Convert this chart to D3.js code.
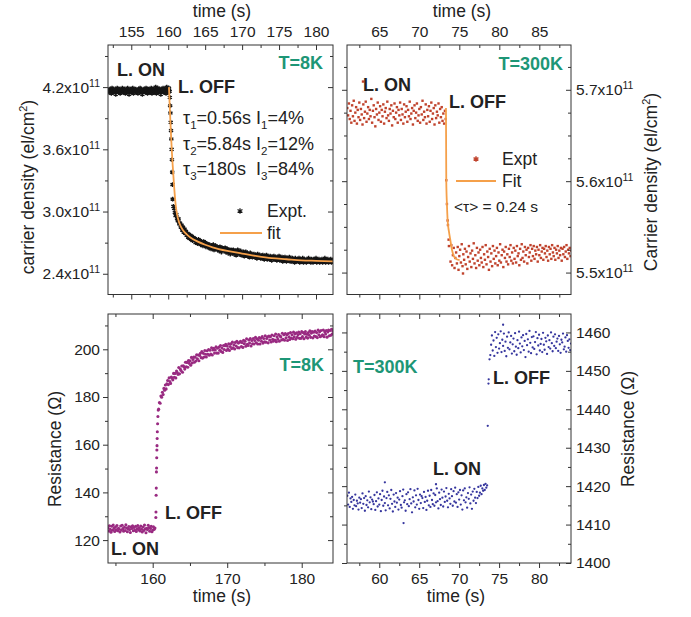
<!DOCTYPE html>
<html>
<head>
<meta charset="utf-8">
<script src="https://cdn.jsdelivr.net/npm/d3@7"></script>
<style>
body { margin: 0; background: #fff; }
svg { font-family: "Liberation Sans", Arial, Helvetica, sans-serif; }
</style>
</head>
<body>
<div id="chart"></div>
<script>
// ---- tick values ----
var tlXMajor = [155, 160, 165, 170, 175, 180];
var tlXMinor = [152.5, 157.5, 162.5, 167.5, 172.5, 177.5];
var tlYMajor = [2.4, 3.0, 3.6, 4.2];
var tlYMinor = [2.7, 3.3, 3.9, 4.5];
var trXMajor = [65, 70, 75, 80, 85];
var trXMinor = [62.5, 67.5, 72.5, 77.5, 82.5, 87.5];
var trYMajor = [5.5, 5.6, 5.7];
var trYMinor = [5.525, 5.55, 5.575, 5.625, 5.65, 5.675, 5.725];
var blXMajor = [160, 170, 180];
var blXMinor = [155, 165, 175];
var blYMajor = [120, 140, 160, 180, 200];
var blYMinor = [130, 150, 170, 190, 210];
var brXMajor = [60, 65, 70, 75, 80];
var brXMinor = [57.5, 62.5, 67.5, 72.5, 77.5, 82.5];
var brYMajor = [1400, 1410, 1420, 1430, 1440, 1450, 1460];
var brYMinor = [1405, 1415, 1425, 1435, 1445, 1455];

// ---- T=8K carrier density (x1e11 el/cm2), sampled every 0.1 s ----
var tlOnT0 = 151.9;
var tlOn = [4.17,4.15,4.18,4.16,4.14,4.19,4.17,4.15,4.16,4.18,4.13,4.17,4.19,4.16,4.15,4.18,4.14,4.16,4.17,4.19,
4.15,4.16,4.18,4.14,4.17,4.15,4.19,4.16,4.13,4.17,4.18,4.15,4.16,4.19,4.14,4.17,4.16,4.18,4.15,4.17,
4.14,4.18,4.16,4.19,4.15,4.17,4.13,4.16,4.18,4.17,4.15,4.19,4.16,4.14,4.18,4.17,4.15,4.16,4.19,4.14,
4.17,4.18,4.15,4.16,4.20,4.14,4.17,4.19,4.15,4.16,4.18,4.13,4.17,4.16,4.19,4.15,4.18,4.16,4.14,4.20,
4.17,4.15,4.19,4.16];
var tlDrop = [[160.22,4.10],[160.26,4.02],[160.3,3.95],[160.34,3.86],[160.38,3.78],[160.42,3.70],[160.46,3.60],[160.5,3.50],[160.54,3.38],[160.58,3.26]];
var tlDecayT0 = 160.6;
var tlDecay = [3.12,3.05,3.03,2.99,2.96,2.97,2.93,2.91,2.93,2.88,
2.89,2.85,2.87,2.82,2.85,2.80,2.83,2.79,2.81,2.77,
2.79,2.75,2.78,2.74,2.77,2.73,2.76,2.72,2.75,2.74,
2.74,2.70,2.73,2.72,2.69,2.73,2.70,2.72,2.68,2.71,
2.70,2.67,2.71,2.68,2.70,2.66,2.69,2.67,2.68,2.65,
2.68,2.66,2.64,2.67,2.65,2.68,2.63,2.66,2.67,2.64,
2.66,2.63,2.65,2.62,2.66,2.64,2.61,2.65,2.63,2.64,
2.62,2.65,2.61,2.63,2.64,2.60,2.63,2.62,2.59,2.63,
2.62,2.60,2.63,2.59,2.61,2.62,2.58,2.61,2.63,2.60,
2.59,2.61,2.62,2.58,2.60,2.59,2.61,2.57,2.60,2.61,
2.58,2.60,2.57,2.59,2.56,2.60,2.58,2.59,2.56,2.58,
2.59,2.56,2.58,2.57,2.55,2.59,2.57,2.56,2.58,2.55,
2.57,2.55,2.58,2.56,2.54,2.57,2.56,2.58,2.54,2.56,
2.56,2.54,2.57,2.55,2.53,2.56,2.55,2.57,2.54,2.55,
2.56,2.53,2.55,2.54,2.57,2.53,2.55,2.54,2.56,2.52,
2.55,2.53,2.56,2.54,2.52,2.55,2.54,2.53,2.56,2.52,
2.54,2.52,2.55,2.53,2.54,2.51,2.55,2.53,2.52,2.54,
2.53,2.55,2.51,2.54,2.52,2.53,2.55,2.51,2.54,2.52,
2.53,2.51,2.54,2.52,2.55,2.52,2.53,2.51,2.54,2.53,
2.51,2.54,2.52,2.53,2.55,2.51,2.53,2.52,2.54,2.51,
2.53,2.52,2.54,2.51,2.53,2.52,2.55,2.51,2.53,2.52,
2.54,2.51,2.53,2.52,2.54,2.51,2.53,2.52];
var tlFitT = [160.1,160.2,160.3,160.4,160.5,160.6,160.8,161.0,161.2,161.5,162.0,162.5,163.0,164,165,166,168,170,172,174,176,178,180,182.3];
var tlFitV = [4.20,4.02,3.86,3.71,3.57,3.45,3.24,3.07,2.97,2.89,2.82,2.78,2.75,2.71,2.68,2.655,2.62,2.595,2.57,2.55,2.54,2.53,2.525,2.52];

// ---- T=300K carrier density (x1e11 el/cm2) ----
var trOnT0 = 61.0;
var trOn = [5.680,5.672,5.685,5.668,5.677,5.664,5.683,5.671,5.688,5.666,
5.675,5.681,5.663,5.678,5.670,5.686,5.667,5.679,5.673,5.662,
5.684,5.669,5.676,5.687,5.665,5.674,5.681,5.668,5.678,5.671,
5.690,5.664,5.677,5.683,5.670,5.660,5.679,5.673,5.686,5.667,
5.675,5.682,5.665,5.678,5.671,5.684,5.663,5.676,5.680,5.669,
5.687,5.672,5.666,5.679,5.674,5.683,5.661,5.677,5.670,5.685,
5.668,5.675,5.681,5.664,5.678,5.672,5.686,5.667,5.679,5.673,
5.663,5.684,5.670,5.676,5.682,5.665,5.678,5.671,5.687,5.668,
5.674,5.680,5.662,5.677,5.683,5.669,5.675,5.685,5.666,5.672,
5.679,5.664,5.681,5.673,5.688,5.667,5.676,5.670,5.684,5.663,
5.678,5.671,5.682,5.665,5.677,5.686,5.668,5.674,5.680,5.662,
5.683,5.669,5.676,5.672,5.685,5.664,5.679,5.670,5.681,5.666,
5.674,5.663,5.677,5.668];
var trDrop = [[73.37,5.601],[73.45,5.575],[73.54,5.557],[73.58,5.552],[73.66,5.536],[73.7,5.529]];
var trOutliers = [[62.96,5.709],[75.46,5.499]];
var trOffT0 = 73.9;
var trOff = [5.512,5.530,5.508,5.519,5.527,5.505,5.516,5.522,5.510,
5.528,5.503,5.518,5.525,5.511,5.531,5.507,5.520,5.514,5.526,
5.509,5.523,5.504,5.517,5.529,5.512,5.521,5.506,5.524,5.515,
5.532,5.510,5.519,5.505,5.527,5.513,5.522,5.508,5.525,5.516,
5.511,5.528,5.506,5.520,5.514,5.530,5.509,5.523,5.517,5.503,
5.526,5.512,5.521,5.507,5.529,5.515,5.524,5.510,5.518,5.527,
5.508,5.522,5.513,5.531,5.511,5.519,5.525,5.506,5.523,5.516,
5.528,5.512,5.520,5.509,5.526,5.517,5.530,5.513,5.522,5.510,
5.527,5.515,5.524,5.511,5.529,5.518,5.521,5.508,5.526,5.514,
5.531,5.516,5.523,5.512,5.528,5.519,5.525,5.510,5.527,5.517,
5.522,5.530,5.513,5.526,5.518,5.529,5.515,5.524,5.520,5.528,
5.512,5.525,5.519,5.530,5.516,5.523,5.527,5.514,5.526,5.521,
5.529,5.517,5.524,5.513,5.528,5.520,5.526,5.515,5.530,5.522,
5.518,5.527,5.514,5.525,5.521,5.529,5.516,5.524,5.519,5.527,
5.513,5.526,5.520,5.528,5.517,5.523,5.530,5.515,5.525,5.521,
5.527,5.518,5.524];
var trFitT = [73.33,73.35,73.37,73.45,73.54,73.7,73.87,74.08,74.5,75.04];
var trFitV = [5.68,5.64,5.60,5.575,5.557,5.545,5.536,5.525,5.5155,5.5136];

// ---- T=8K resistance (Ohm) ----
var blOnT0 = 154.0;
var blOn = [125.2,123.8,126.0,124.5,123.3,125.8,124.1,126.3,124.9,123.6,
125.5,124.3,126.1,123.9,125.0,124.6,123.4,125.9,124.2,126.2,
124.8,123.7,125.4,124.0,126.4,125.1,123.5,124.7,125.7,124.4,
123.2,125.6,124.9,126.0,123.9,125.3,124.1,125.8,123.6,124.8,
126.1,124.3,125.2,123.8,125.9,124.6,123.4,125.5,124.0,126.3,
124.7,123.1,125.0,124.4,126.2,125.3,123.7,124.9,125.8,123.5,
124.2,125.6,124.5,125.1];
var blJump = [[160.42,129.5],[160.44,131.8],[160.46,138.8],[160.48,141.8],[160.5,148.6],[160.52,150.2],[160.54,154.5],[160.56,157.8],[160.58,159.6],[160.6,162.6],[160.62,165.4],[160.66,168.8],[160.7,171.8],[160.74,174.5]];
var blRecT0 = 160.8;
var blRec = [174.9,177.7,177.4,180.4,179.9,182.0,181.0,183.6,182.8,185.0,
183.4,185.5,186.9,185.2,188.0,186.5,185.7,188.4,187.9,187.2,
189.9,188.3,189.9,188.0,190.9,190.3,189.5,192.4,189.7,191.7,
191.1,193.0,190.4,193.1,192.7,191.7,194.6,192.7,194.5,192.5,
195.3,194.1,195.2,193.3,196.6,194.3,195.7,196.7,194.6,196.7,
195.1,197.7,196.0,197.6,195.2,197.4,198.3,196.5,199.1,196.3,
198.3,196.8,199.5,197.9,196.8,199.4,197.9,199.9,197.5,199.6,
198.0,200.6,197.6,199.7,200.4,198.4,199.7,201.0,198.4,200.5,
198.4,200.9,199.6,201.6,199.1,200.5,198.7,201.6,199.9,201.5,
202.1,199.5,201.4,200.2,202.3,199.5,201.2,202.3,200.3,203.0,
200.6,201.9,200.1,202.9,201.4,203.4,200.7,202.6,200.6,203.0,
203.4,201.2,202.8,200.8,203.8,202.3,203.4,201.3,204.4,202.1,
201.6,203.9,202.6,204.5,201.4,203.7,202.3,204.5,202.2,203.7,
205.0,202.7,204.4,202.2,203.8,204.9,202.2,204.6,203.4,205.3,
202.6,204.5,203.1,205.7,203.0,204.5,205.2,202.7,205.6,203.9,
205.3,203.1,206.0,204.2,203.4,205.7,203.9,206.4,203.2,205.2,
204.2,206.2,203.4,205.6,205.2,203.9,206.7,204.2,206.1,203.8,
206.6,204.8,206.1,203.7,206.6,205.2,204.1,207.0,204.7,206.1,
204.4,207.2,205.2,206.5,204.2,206.9,205.0,206.1,207.2,204.6,
206.5,204.6,207.4,205.3,207.0,204.4,206.4,207.4,205.1,206.3,
204.7,207.0,205.9,207.8,205.0,206.8,207.4,204.8,207.2,205.6,
207.6,205.3,207.0,204.9,208.1,206.1,207.4,205.3,207.9,205.7,
206.1,208.1,205.3,207.4,206.4,207.9,205.1,207.3,208.1,205.7,
207.9,205.9,208.4,206.4,207.6];

// ---- T=300K resistance (Ohm) ----
var brOnT0 = 56.0;
var brOn = [1417.5,1415.2,1418.3,1414.6,1416.8,1415.9,1417.2,1414.1,1416.4,1415.0,
1417.8,1414.8,1416.2,1415.5,1413.9,1417.0,1415.7,1416.6,1414.3,1418.1,
1415.4,1416.9,1413.6,1417.4,1415.1,1416.3,1414.5,1418.6,1415.8,1417.1,
1414.0,1416.5,1416.0,1415.3,1417.7,1413.8,1416.1,1418.4,1414.7,1416.8,
1415.2,1417.9,1413.5,1416.4,1418.8,1414.9,1417.3,1415.6,1413.7,1416.9,
1418.5,1415.0,1417.6,1414.2,1416.7,1419.0,1415.4,1413.4,1417.8,1416.0,
1414.6,1418.2,1415.7,1417.0,1413.9,1416.5,1418.7,1415.1,1414.4,1417.4,
1419.1,1415.8,1416.3,1413.6,1417.9,1415.3,1418.4,1414.8,1416.6,1419.2,
1415.5,1413.2,1417.1,1416.0,1418.9,1414.5,1417.6,1415.2,1419.3,1416.4,
1414.1,1417.8,1415.6,1417.4,1416.9,1414.3,1418.5,1415.9,1417.2,1413.8,
1416.2,1418.8,1415.0,1417.5,1414.6,1419.0,1416.4,1415.3,1418.1,1414.9,
1417.7,1415.8,1419.4,1416.1,1414.2,1418.3,1416.6,1415.1,1419.1,1417.0,
1414.7,1418.6,1415.9,1417.3,1419.5,1416.2,1414.5,1418.0,1416.8,1415.4,
1419.2,1417.4,1414.9,1418.7,1416.0,1419.6,1415.7,1417.9,1414.6,1418.4,
1416.5,1419.0,1415.2,1417.6,1413.9,1418.9,1416.3,1419.4,1415.8,1417.1,
1414.4,1418.2,1416.7,1419.7,1415.5,1417.8,1414.1,1418.6,1416.2,1419.3,
1417.0,1415.6,1418.5,1416.9,1419.8,1417.5,1418.3,1420.1,1417.9,1419.4,
1418.8,1420.3,1419.0,1420.6,1419.6,1420.2];
var brOutliers = [[60.7,1421.0],[67.1,1420.5],[63.04,1410.4],[75.5,1462.0]];
var brJump = [[73.58,1435.7],[73.67,1446.7],[73.7,1447.8],[73.8,1453.0]];
var brOffT0 = 73.9;
var brOff = [1454.1,1456.8,1459.2,1455.3,1457.9,1453.9,1460.1,1456.2,1458.6,1454.7,
1459.5,1455.8,1457.2,1460.3,1454.9,1458.1,1456.5,1459.7,1455.2,1457.6,
1453.8,1458.9,1456.0,1460.0,1455.6,1457.4,1459.1,1454.5,1456.9,1458.4,
1455.1,1459.8,1456.3,1454.2,1458.0,1455.9,1460.2,1457.1,1454.8,1458.7,
1456.4,1459.3,1455.4,1457.8,1453.6,1459.6,1456.7,1458.2,1455.0,1460.4,
1457.3,1454.6,1458.8,1456.1,1459.0,1455.7,1457.5,1460.1,1454.3,1458.5,
1456.6,1459.4,1455.3,1457.0,1458.3,1454.9,1459.9,1456.8,1455.5,1458.6,
1457.7,1454.4,1459.2,1456.2,1458.0,1455.8,1460.0,1457.2,1455.1,1458.9,
1456.5,1459.5,1455.9,1457.6,1458.4,1455.2,1459.1,1456.9,1454.7,1458.1,
1457.4,1459.7,1455.6,1456.3,1458.7,1455.0,1459.3,1457.8,1456.0,1458.2,
1455.4,1457.1];

// ---- colours ----
var cBlack = "#151515", cRed = "#c0432d", cPurple = "#992a81", cBlue = "#36369e";
var cFit = "#f5a04a", cGreen = "#1d9676", cAxis = "#333", cText = "#222";

function series(t0, vals) {
  return vals.map(function(v, i) { return [t0 + i * 0.1, v]; });
}
function pairs(ts, vs) {
  return ts.map(function(t, i) { return [t, vs[i]]; });
}

var svg = d3.select("#chart").append("svg")
  .attr("width", 691).attr("height", 617);

function panel(id, box, xd, yd) {
  var p = {
    id: id, b: box,
    x: d3.scaleLinear().domain(xd).range([box[0], box[1]]),
    y: d3.scaleLinear().domain(yd).range([box[3], box[2]])
  };
  svg.append("clipPath").attr("id", "clip-" + id).append("rect")
    .attr("x", box[0]).attr("y", box[2])
    .attr("width", box[1] - box[0]).attr("height", box[3] - box[2]);
  p.g = svg.append("g").attr("clip-path", "url(#clip-" + id + ")");
  return p;
}

var TL = panel("tl", [108, 333, 45, 294.5], [151.85, 182.3], [2.2, 4.606]);
var TR = panel("tr", [347, 571, 45, 294.5], [60.96, 88.96], [5.476, 5.749]);
var BL = panel("bl", [108, 333, 314, 563], [154.0, 184.2], [110.4, 214.8]);
var BR = panel("br", [347, 571, 314, 563], [55.96, 84.0], [1400, 1464.8]);

function tickAxis(fn, scale, vals, size, tx, ty, fmt, pad) {
  var a = fn(scale).tickValues(vals).tickSizeInner(size).tickSizeOuter(0)
    .tickPadding(pad == null ? 3 : pad)
    .tickFormat(fmt || function() { return ""; });
  var g = svg.append("g").attr("transform", "translate(" + tx + "," + ty + ")").call(a);
  g.select(".domain").remove();
  g.attr("font-family", null).attr("font-size", 15.5).attr("color", cAxis);
  g.selectAll("text").attr("fill", cText);
  return g;
}

function frame(p) {
  svg.append("rect").attr("x", p.b[0]).attr("y", p.b[2])
    .attr("width", p.b[1] - p.b[0]).attr("height", p.b[3] - p.b[2])
    .attr("fill", "none").attr("stroke", cAxis).attr("stroke-width", 1);
}

var fInt = d3.format("d");
var fExp = d3.format(".1f");
function supLabels(g) {
  g.selectAll("text").each(function(d) {
    var t = d3.select(this);
    t.text(fExp(d) + "x10");
    t.append("tspan").attr("dy", -6).attr("font-size", 10.5).text("11");
  });
}

// top-left axes
tickAxis(d3.axisTop, TL.x, tlXMajor, -5, 0, TL.b[2], fInt, 8);
tickAxis(d3.axisTop, TL.x, tlXMinor, -3, 0, TL.b[2]);
tickAxis(d3.axisBottom, TL.x, tlXMajor, 5, 0, TL.b[3]);
tickAxis(d3.axisBottom, TL.x, tlXMinor, 3, 0, TL.b[3]);
supLabels(tickAxis(d3.axisLeft, TL.y, tlYMajor, 5, TL.b[0], 0, fExp, 3));
tickAxis(d3.axisLeft, TL.y, tlYMinor, 3, TL.b[0], 0);
tickAxis(d3.axisLeft, TL.y, tlYMajor, 5, TL.b[1], 0);
tickAxis(d3.axisLeft, TL.y, tlYMinor, 3, TL.b[1], 0);

// top-right axes
tickAxis(d3.axisTop, TR.x, trXMajor, -5, 0, TR.b[2], fInt, 8);
tickAxis(d3.axisTop, TR.x, trXMinor, -3, 0, TR.b[2]);
tickAxis(d3.axisBottom, TR.x, trXMajor, 5, 0, TR.b[3]);
tickAxis(d3.axisBottom, TR.x, trXMinor, 3, 0, TR.b[3]);
tickAxis(d3.axisLeft, TR.y, trYMajor, 5, TR.b[0], 0);
tickAxis(d3.axisLeft, TR.y, trYMinor, 3, TR.b[0], 0);
supLabels(tickAxis(d3.axisRight, TR.y, trYMajor, -5, TR.b[1], 0, fExp, 5));
tickAxis(d3.axisRight, TR.y, trYMinor, -3, TR.b[1], 0);

// bottom-left axes
tickAxis(d3.axisBottom, BL.x, blXMajor, 5, 0, BL.b[2]);
tickAxis(d3.axisBottom, BL.x, blXMinor, 3, 0, BL.b[2]);
tickAxis(d3.axisBottom, BL.x, blXMajor, 5, 0, BL.b[3], fInt, 5);
tickAxis(d3.axisBottom, BL.x, blXMinor, 3, 0, BL.b[3]);
tickAxis(d3.axisLeft, BL.y, blYMajor, 5, BL.b[0], 0, fInt, 3);
tickAxis(d3.axisLeft, BL.y, blYMinor, 3, BL.b[0], 0);
tickAxis(d3.axisLeft, BL.y, blYMajor, 5, BL.b[1], 0);
tickAxis(d3.axisLeft, BL.y, blYMinor, 3, BL.b[1], 0);

// bottom-right axes
tickAxis(d3.axisBottom, BR.x, brXMajor, 5, 0, BR.b[2]);
tickAxis(d3.axisBottom, BR.x, brXMinor, 3, 0, BR.b[2]);
tickAxis(d3.axisBottom, BR.x, brXMajor, 5, 0, BR.b[3], fInt, 5);
tickAxis(d3.axisBottom, BR.x, brXMinor, 3, 0, BR.b[3]);
tickAxis(d3.axisLeft, BR.y, brYMajor, 5, BR.b[0], 0);
tickAxis(d3.axisLeft, BR.y, brYMinor, 3, BR.b[0], 0);
tickAxis(d3.axisRight, BR.y, brYMajor, -5, BR.b[1], 0, fInt, 5);
tickAxis(d3.axisRight, BR.y, brYMinor, -3, BR.b[1], 0);

[TL, TR, BL, BR].forEach(frame);

// ---- data marks ----
var star = d3.symbol(d3.symbolAsterisk, 16);
var tlData = series(tlOnT0, tlOn).concat(tlDrop, series(tlDecayT0, tlDecay));
TL.g.selectAll(".pt").data(tlData).enter().append("path")
  .attr("class", "pt")
  .attr("transform", function(d) { return "translate(" + TL.x(d[0]) + "," + TL.y(d[1]) + ")"; })
  .attr("d", star)
  .attr("fill", "none").attr("stroke", cBlack).attr("stroke-width", 1.4);

var trData = series(trOnT0, trOn).concat(trDrop, trOutliers, series(trOffT0, trOff));
TR.g.selectAll(".pt").data(trData).enter().append("rect")
  .attr("class", "pt")
  .attr("x", function(d) { return TR.x(d[0]) - 1.2; })
  .attr("y", function(d) { return TR.y(d[1]) - 1.2; })
  .attr("width", 2.4).attr("height", 2.4)
  .attr("fill", cRed);

var blData = series(blOnT0, blOn).concat(blJump, series(blRecT0, blRec));
BL.g.selectAll(".pt").data(blData).enter().append("circle")
  .attr("class", "pt")
  .attr("cx", function(d) { return BL.x(d[0]); })
  .attr("cy", function(d) { return BL.y(d[1]); })
  .attr("r", 1.55)
  .attr("fill", cPurple);

var brData = series(brOnT0, brOn).concat(brOutliers, brJump, series(brOffT0, brOff));
BR.g.selectAll(".pt").data(brData).enter().append("circle")
  .attr("class", "pt")
  .attr("cx", function(d) { return BR.x(d[0]); })
  .attr("cy", function(d) { return BR.y(d[1]); })
  .attr("r", 1.15)
  .attr("fill", cBlue);

// fits
function fitLine(p, pts) {
  var line = d3.line()
    .x(function(d) { return p.x(d[0]); })
    .y(function(d) { return p.y(d[1]); })
    .curve(d3.curveMonotoneX);
  p.g.append("path").datum(pts).attr("d", line)
    .attr("fill", "none").attr("stroke", cFit).attr("stroke-width", 1.8);
}
fitLine(TL, pairs(tlFitT, tlFitV));
fitLine(TR, pairs(trFitT, trFitV));

// ---- text ----
function label(x, y, txt, opt) {
  opt = opt || {};
  return svg.append("text").attr("x", x).attr("y", y)
    .attr("font-size", opt.size || 18)
    .attr("font-weight", opt.bold ? "bold" : null)
    .attr("text-anchor", opt.anchor || "start")
    .attr("fill", opt.color || cText)
    .text(txt);
}

// axis titles
label(222, 17, "time (s)", { size: 17.5, anchor: "middle" });
label(462, 17, "time (s)", { size: 17.5, anchor: "middle" });
label(222, 602, "time (s)", { size: 17.5, anchor: "middle" });
label(456, 602, "time (s)", { size: 17.5, anchor: "middle" });

function yTitle(x, y, main, sup, tail) {
  var t = svg.append("text")
    .attr("transform", "translate(" + x + "," + y + ") rotate(-90)")
    .attr("text-anchor", "middle").attr("font-size", 17.5).attr("fill", cText)
    .text(main);
  if (sup) {
    t.append("tspan").attr("dy", -7).attr("font-size", 11).text(sup);
    t.append("tspan").attr("dy", 7).text(tail);
  }
}
yTitle(34, 187, "carrier density (el/cm", "2", ")");
yTitle(657, 182, "Carrier density (el/cm", "2", ")");
yTitle(61, 449, "Resistance (\u03a9)");
yTitle(634, 429, "Resistance (\u03a9)");

// annotations
label(117, 76, "L. ON", { bold: true });
label(178, 93, "L. OFF", { bold: true });
label(323, 69, "T=8K", { bold: true, anchor: "end", color: cGreen });
label(363, 91, "L. ON", { bold: true });
label(449, 107.5, "L. OFF", { bold: true });
label(563, 70, "T=300K", { bold: true, anchor: "end", color: cGreen });
label(324, 371, "T=8K", { bold: true, anchor: "end", color: cGreen });
label(165, 518.5, "L. OFF", { bold: true });
label(111, 554.5, "L. ON", { bold: true });
label(353, 373, "T=300K", { bold: true, color: cGreen });
label(493, 384, "L. OFF", { bold: true });
label(433, 475, "L. ON", { bold: true });

// fit parameters with subscripts
function subLine(x, y, parts) {
  var t = svg.append("text").attr("x", x).attr("y", y)
    .attr("font-size", 18).attr("fill", cText);
  var shifted = false;
  parts.forEach(function(p) {
    var s = t.append("tspan").text(p[0]);
    if (p[1]) { s.attr("dy", 5).attr("font-size", 11.5); shifted = true; }
    else if (shifted) { s.attr("dy", -5); shifted = false; }
  });
}
subLine(183, 124, [["\u03c4"], ["1", 1], ["=0.56s I"], ["1", 1], ["=4%"]]);
subLine(183, 150, [["\u03c4"], ["2", 1], ["=5.84s I"], ["2", 1], ["=12%"]]);
subLine(183, 175, [["\u03c4"], ["3", 1], ["=180s\u00a0\u00a0I"], ["3", 1], ["=84%"]]);

// legends
svg.append("path").attr("transform", "translate(240,211)")
  .attr("d", d3.symbol(d3.symbolAsterisk, 22))
  .attr("fill", "none").attr("stroke", cBlack).attr("stroke-width", 1.2);
label(267, 217, "Expt.", { size: 17.5 });
svg.append("line").attr("x1", 220).attr("x2", 262).attr("y1", 233).attr("y2", 233)
  .attr("stroke", cFit).attr("stroke-width", 1.8);
label(267, 239, "fit", { size: 17.5 });

svg.append("path").attr("transform", "translate(476,159)")
  .attr("d", d3.symbol(d3.symbolAsterisk, 22))
  .attr("fill", "none").attr("stroke", cRed).attr("stroke-width", 1.4);
label(502, 165, "Expt", { size: 17.5 });
svg.append("line").attr("x1", 456).attr("x2", 496).attr("y1", 181).attr("y2", 181)
  .attr("stroke", cFit).attr("stroke-width", 1.8);
label(502, 187, "Fit", { size: 17.5 });
label(454, 212, "<\u03c4> = 0.24 s", { size: 15.5 });
</script>
</body>
</html>
